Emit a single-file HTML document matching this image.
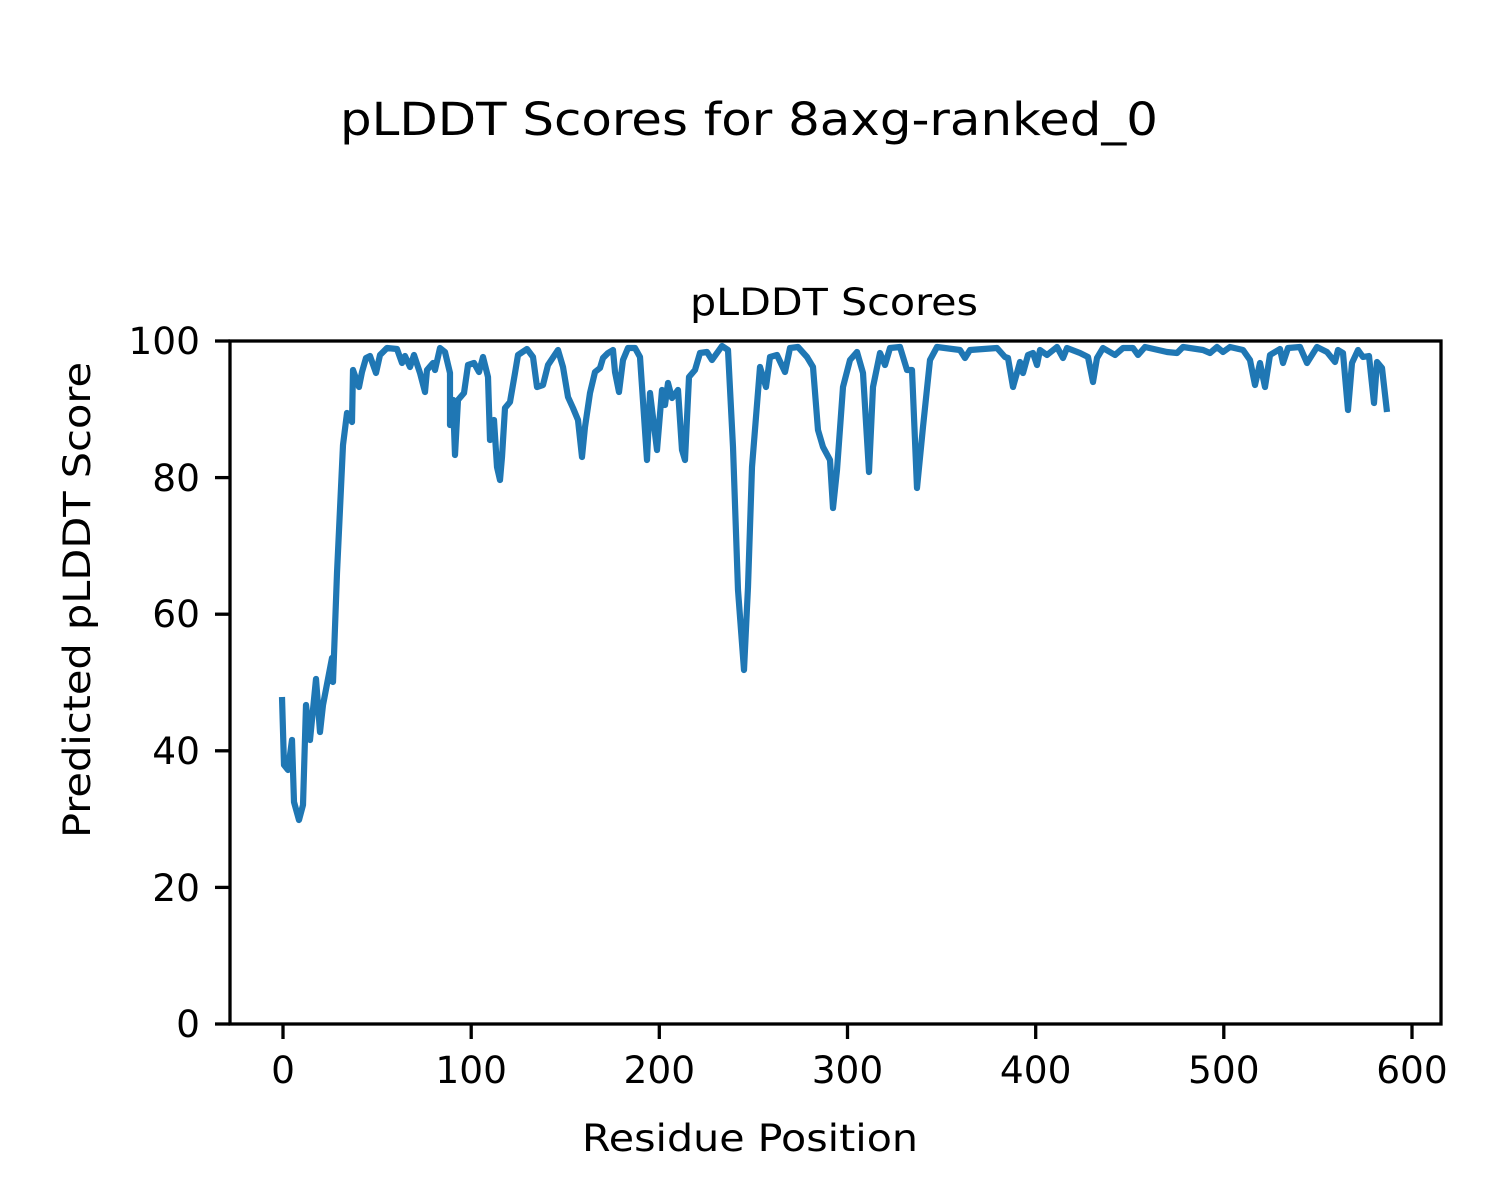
<!DOCTYPE html>
<html><head><meta charset="utf-8"><style>body{margin:0;background:#fff}svg{display:block}</style></head>
<body>
<svg width="1500" height="1200" xmlns="http://www.w3.org/2000/svg" font-family="DejaVu Sans, Liberation Sans, sans-serif">
<rect width="1500" height="1200" fill="#fff"/>
<text x="749" y="135" font-size="45" text-anchor="middle" textLength="818" lengthAdjust="spacingAndGlyphs">pLDDT Scores for 8axg-ranked_0</text>
<text x="834" y="315" font-size="37.5" text-anchor="middle" textLength="288" lengthAdjust="spacingAndGlyphs">pLDDT Scores</text>
<polyline fill="none" stroke="#1f77b4" stroke-width="6.2" stroke-linejoin="round" points="
282,697 284,765 288,770 292,740 294,802 299,820 303,805 306,705 310,740 316,679 320,732 323,705 332,658 333,682 337,573 343,445 347,413 352,422 353,370 359,387 362,372 366,358 370,356 376,373 380,355 387,348 397,349 402,363 405,356 410,367 414,355 420,373 425,392 427,370 433,363 435,370 440,348 445,352 450,373 450,425 453,400 455,455 458,400 464,393 468,365 474,363 479,372 483,357 488,377 490,440 494,420 497,467 500,480 502,457 505,408 510,402 515,373 518,355 527,349 533,357 537,387 543,385 548,365 558,350 563,367 568,397 573,408 578,420 582,457 585,427 590,393 595,372 600,368 603,358 608,353 613,350 615,372 619,392 623,360 628,348 635,348 640,357 647,460 650,393 657,450 662,390 665,405 668,383 672,398 678,390 682,450 685,460 689,377 695,370 700,353 707,352 712,360 722,346 728,350 733,447 738,590 744,670 748,587 752,467 760,367 766,387 770,357 777,355 785,372 790,348 798,347 807,357 813,367 818,430 823,447 830,460 833,508 837,470 843,387 850,360 857,352 863,373 869,472 873,387 880,353 885,365 890,348 900,347 907,370 912,370 917,488 923,427 930,360 937,347 960,350 965,358 970,350 997,348 1005,357 1008,358 1013,387 1020,362 1023,373 1028,355 1033,353 1037,365 1040,350 1047,355 1057,347 1063,358 1067,348 1080,353 1088,357 1093,382 1097,358 1103,348 1115,355 1123,348 1133,348 1138,355 1145,347 1167,352 1177,353 1183,347 1203,350 1210,353 1217,347 1223,352 1230,347 1243,350 1250,360 1255,385 1260,363 1265,387 1270,355 1280,349 1283,363 1288,348 1300,347 1307,363 1317,347 1327,352 1335,362 1338,350 1343,353 1348,410 1352,363 1358,350 1363,357 1369,356 1374,403 1377,362 1382,368 1387,412"/>
<rect x="230" y="341" width="1211" height="683" fill="none" stroke="#000" stroke-width="3.3"/>
<g stroke="#000" stroke-width="3.3">
<line x1="215" y1="1024" x2="230" y2="1024"/><line x1="215" y1="887.4" x2="230" y2="887.4"/><line x1="215" y1="750.8" x2="230" y2="750.8"/><line x1="215" y1="614.2" x2="230" y2="614.2"/><line x1="215" y1="477.6" x2="230" y2="477.6"/><line x1="215" y1="341" x2="230" y2="341"/>
<line x1="283" y1="1024" x2="283" y2="1039"/><line x1="471.2" y1="1024" x2="471.2" y2="1039"/><line x1="659.3" y1="1024" x2="659.3" y2="1039"/><line x1="847.5" y1="1024" x2="847.5" y2="1039"/><line x1="1035.7" y1="1024" x2="1035.7" y2="1039"/><line x1="1223.8" y1="1024" x2="1223.8" y2="1039"/><line x1="1412" y1="1024" x2="1412" y2="1039"/>
</g>
<g font-size="37.5" text-anchor="end">
<text x="200" y="1037">0</text><text x="200" y="901">20</text><text x="200" y="764">40</text><text x="200" y="627">60</text><text x="200" y="491">80</text><text x="200" y="354">100</text>
</g>
<g font-size="37.5" text-anchor="middle">
<text x="283" y="1083">0</text><text x="471.2" y="1083">100</text><text x="659.3" y="1083">200</text><text x="847.5" y="1083">300</text><text x="1035.7" y="1083">400</text><text x="1223.8" y="1083">500</text><text x="1412" y="1083">600</text>
<text x="750" y="1151" textLength="336" lengthAdjust="spacingAndGlyphs">Residue Position</text>
<text x="0" y="0" transform="translate(90,600) rotate(-90)" textLength="476" lengthAdjust="spacingAndGlyphs">Predicted pLDDT Score</text>
</g>
</svg>
</body></html>
